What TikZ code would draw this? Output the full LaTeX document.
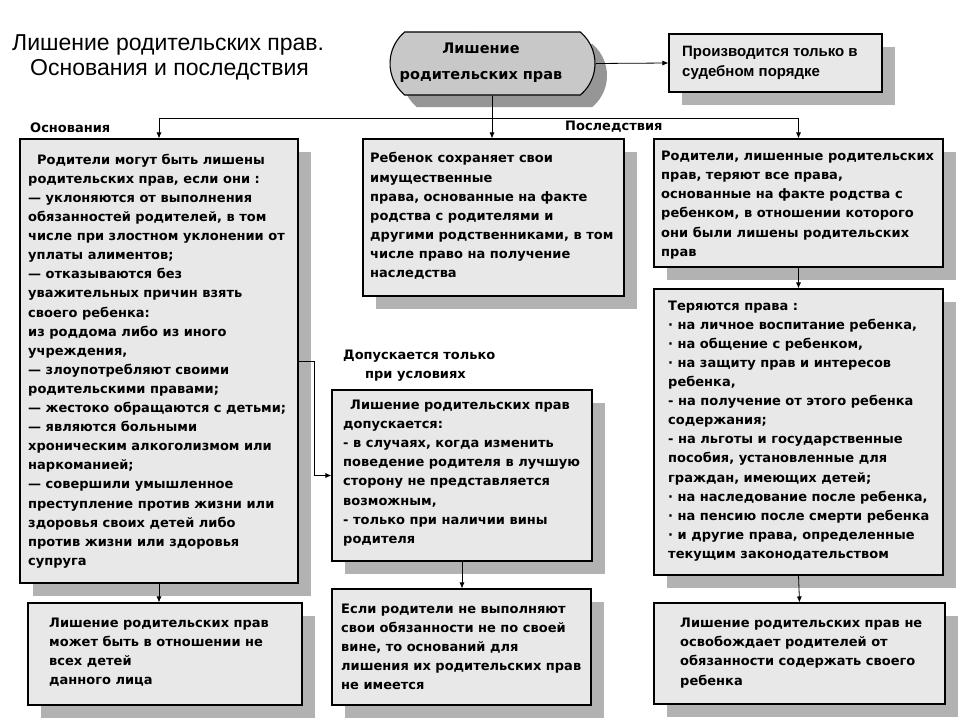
\documentclass[tikz,border=0pt]{standalone}
\usepackage{fontspec}
\setmainfont{Liberation Sans}
\newfontfamily\bx{DejaVu Sans}
\newfontfamily\lb{Liberation Sans}
\usetikzlibrary{shapes.misc,shadows,arrows.meta}
\definecolor{boxfill}{RGB}{232,232,232}
\definecolor{shadowc}{RGB}{178,178,178}
\definecolor{pillfill}{RGB}{200,200,200}
\definecolor{pillshadow}{RGB}{150,150,150}
\tikzset{
  box/.style={draw, line width=1.1pt, fill=boxfill, rectangle, inner sep=0pt,
    drop shadow={shadow xshift=13pt,shadow yshift=-13pt,fill=shadowc,opacity=1,draw=none}},
  txt/.style={anchor=west, align=left, inner sep=0pt, font=\fontsize{13}{19.1}\selectfont\bx\bfseries},
  lbl/.style={anchor=west, inner sep=0pt, font=\fontsize{13}{19.1}\selectfont\bx\bfseries},
  title/.style={anchor=west, inner sep=0pt, font=\fontsize{23}{25}\selectfont\lb},
  arr/.style={-{Latex[length=6pt,width=5pt]}, line width=0.8pt},
  ln/.style={line width=0.8pt}
}
\begin{document}
\begin{tikzpicture}[x=1pt,y=-1pt]
\useasboundingbox[fill=white] (0,0) rectangle (960,720);

% titles
\node[title] (T0a) at (12,45) {Лишение родительских прав.};
\node[title] (T0b) at (30,70) {Основания и последствия};

% pill
\node[rounded rectangle, rounded rectangle arc length=100, draw, line width=1.1pt, fill=pillfill,
  minimum width=205pt, minimum height=63pt, inner sep=0pt,
  drop shadow={shadow xshift=12pt,shadow yshift=-12pt,fill=pillshadow,opacity=1,draw=none}] (P) at (492.5,63.5) {};
\node[align=center, inner sep=0pt, font=\fontsize{14.5}{26}\selectfont\bx\bfseries] (Pt) at (481,63) {Лишение\\родительских прав};

% court box
\node[box, minimum width=213pt, minimum height=58pt] (PR) at (775.5,63) {};
\node[anchor=west, align=left, inner sep=0pt, font=\fontsize{15}{20}\selectfont\lb\bfseries] (PRt) at (682,63) {Производится только в\\судебном порядке};

% boxes
\node[box, minimum width=278pt, minimum height=444pt] (B1) at (159,361) {};
\node[box, minimum width=261pt, minimum height=157pt] (B2) at (493.5,217.5) {};
\node[box, minimum width=289pt, minimum height=128pt] (B3) at (798.5,203) {};
\node[box, minimum width=289pt, minimum height=286pt] (B4) at (798.5,432) {};
\node[box, minimum width=260pt, minimum height=171pt] (B5) at (462,475.5) {};
\node[box, minimum width=291pt, minimum height=101pt] (B6) at (799.5,653.5) {};
\node[box, minimum width=259pt, minimum height=116pt] (B7) at (461.5,647) {};
\node[box, minimum width=274pt, minimum height=102pt] (B8) at (165,654) {};

% texts
\node[txt] (T1) at (28,361) {\hspace*{9pt}Родители могут быть лишены\\родительских прав, если они :\\— уклоняются от выполнения\\обязанностей родителей, в том\\числе при злостном уклонении от\\уплаты алиментов;\\— отказываются без\\уважительных причин взять\\своего ребенка:\\из роддома либо из иного\\учреждения,\\— злоупотребляют своими\\родительскими правами;\\— жестоко обращаются с детьми;\\— являются больными\\хроническим алкоголизмом или\\наркоманией;\\— совершили умышленное\\преступление против жизни или\\здоровья своих детей либо\\против жизни или здоровья\\супруга};
\node[txt] (T2) at (370,216) {Ребенок сохраняет свои\\имущественные\\права, основанные на факте\\родства с родителями и\\другими родственниками, в том\\числе право на получение\\наследства};
\node[txt] (T3) at (661,205) {Родители, лишенные родительских\\прав, теряют все права,\\основанные на факте родства с\\ребенком, в отношении которого\\они были лишены родительских\\прав};
\node[txt] (T4) at (668,431) {Теряются права :\\· на личное воспитание ребенка,\\· на общение с ребенком,\\· на защиту прав и интересов\\ребенка,\\- на получение от этого ребенка\\содержания;\\- на льготы и государственные\\пособия, установленные для\\граждан, имеющих детей;\\· на наследование после ребенка,\\· на пенсию после смерти ребенка\\· и другие права, определенные\\текущим законодательством};
\node[txt] (T5) at (343,473) {\hspace*{7pt}Лишение родительских прав\\допускается:\\- в случаях, когда изменить\\поведение родителя в лучшую\\сторону не представляется\\возможным,\\- только при наличии вины\\родителя};
\node[txt] (T6) at (680,653) {Лишение родительских прав не\\освобождает родителей от\\обязанности содержать своего\\ребенка};
\node[txt] (T7) at (341,647) {Если родители не выполняют\\свои обязанности не по своей\\вине, то оснований для\\лишения их родительских прав\\не имеется};
\node[txt] (T8) at (49,652) {Лишение родительских прав\\может быть в отношении не\\всех детей\\данного лица};

% labels
\node[lbl] (L1) at (30,128) {Основания};
\node[lbl] (L2) at (565,127) {Последствия};
\node[lbl] (L3) at (343,356) {Допускается только};
\node[lbl] (L4) at (365,376) {при условиях};

% connectors
\coordinate (hub) at (492,118);
\draw[arr] (P.east) -- (PR.west);
\draw[arr] (P.south -| hub) -- (B2.north -| hub);
\draw[ln] (B1.north |- hub) -- (B3.north |- hub);
\draw[arr] (B1.north |- hub) -- (B1.north);
\draw[arr] (B3.north |- hub) -- (B3.north);
\draw[arr] (B3.south) -- (B4.north);
\draw[arr] (B4.south) -- (B6.north);
\draw[arr] (B1.south) -- (B1.south |- B8.north);
\draw[arr] (B5.south) -- (B5.south |- B7.north);
\coordinate (el) at (314,361);
\draw[arr] (el -| B1.east) -- (el) |- (B5.west);
\end{tikzpicture}
\end{document}
